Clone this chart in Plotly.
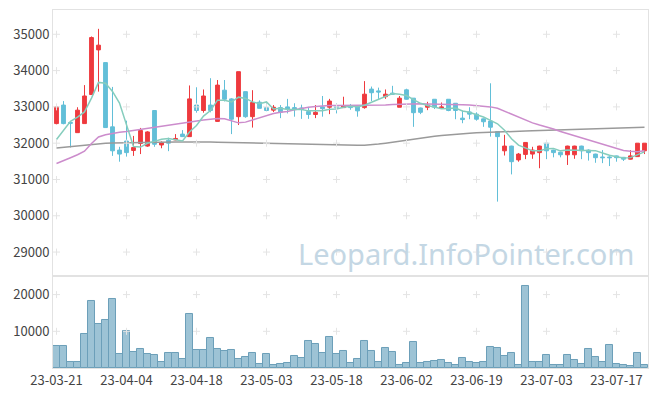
import plotly.graph_objects as go

# ---------------- data ----------------
months = [("03", [21, 22, 23, 24, 27, 28, 29, 30, 31]),
          ("04", [3, 4, 5, 6, 7, 10, 11, 12, 13, 14, 17, 18, 19, 20, 21, 24, 25, 26, 27, 28]),
          ("05", [2, 3, 4, 8, 9, 10, 11, 12, 15, 16, 17, 18, 19, 22, 23, 24, 25, 26, 30, 31]),
          ("06", [1, 2, 5, 7, 8, 9, 12, 13, 14, 15, 16, 19, 20, 21, 22, 23, 26, 27, 28, 29, 30]),
          ("07", [3, 4, 5, 6, 7, 10, 11, 12, 13, 14, 17, 18, 19, 20, 21])]
dates = [f"23-{m}-{d:02d}" for m, days in months for d in days]

opens = [32540, 33050, 32570, 32290, 32540, 33340, 34570, 34220, 32450, 31810,
         32060, 31800, 31990, 31920, 32900, 31950, 32080, 32090, 32250, 32180,
         33050, 32900, 33050, 32600, 33460, 33220, 32730, 33420, 32730, 33130,
         32980, 32910, 32980, 33000, 32980, 32970, 32870, 32790, 33000, 32990,
         33030, 32980, 33030, 33000, 32980, 33490, 33440, 33280, 33380, 32990,
         33470, 33240, 32970, 32990, 33210, 32960, 33210, 33100, 32690, 32860,
         32800, 32670, 32610, 32320, 31790, 31920, 31540, 31690, 31700, 31740,
         32000, 31810, 31750, 31680, 31680, 31920, 31810, 31700, 31620, 31620,
         31650, 31610, 31560, 31630, 31790]
highs = [33000, 33160, 32580, 32990, 33600, 34940, 35150, 34220, 33550, 31900,
         32620, 32200, 32420, 32330, 32900, 32050, 32150, 32250, 32360, 33590,
         33540, 33480, 33790, 33740, 33740, 33240, 33970, 33420, 33460, 33180,
         33120, 33050, 33050, 33220, 33100, 33060, 33000, 33050, 33300, 33220,
         33100, 33280, 33080, 33020, 33710, 33560, 33530, 33480, 33580, 33300,
         33500, 33240, 32980, 33140, 33210, 33120, 33210, 33100, 32900, 32990,
         32850, 32680, 33650, 32320, 32230, 31930, 31730, 32020, 31900, 31930,
         32000, 31820, 31760, 31930, 31930, 31930, 31830, 31710, 31810, 31640,
         31660, 31620, 31810, 32000, 32000]
lows = [32520, 32520, 31880, 32290, 32540, 33340, 33420, 32430, 31650, 31490,
        31630, 31650, 31700, 31900, 31900, 31860, 31780, 32080, 32170, 32180,
        32840, 32840, 32850, 32590, 33150, 32250, 32500, 32700, 32430, 32960,
        32880, 32860, 32690, 32820, 32730, 32670, 32670, 32690, 32730, 32800,
        32820, 32970, 32920, 32730, 32950, 33160, 33220, 33220, 33340, 32990,
        33200, 32450, 32800, 32910, 32940, 32960, 32880, 32660, 32550, 32660,
        32620, 32450, 32180, 30390, 31660, 31140, 31490, 31560, 31570, 31310,
        31560, 31610, 31610, 31400, 31570, 31560, 31520, 31460, 31450, 31370,
        31490, 31510, 31550, 31620, 31700]
closes = [33000, 32540, 32550, 32910, 33300, 34910, 34700, 32430, 31790, 31700,
          31740, 31880, 32350, 32310, 31970, 32020, 32000, 32130, 32180, 33220,
          32900, 33300, 32900, 33600, 33210, 32660, 33970, 32730, 33120, 32960,
          32900, 32990, 32850, 32940, 32940, 32930, 32790, 32850, 32950, 33160,
          32970, 33030, 32980, 32890, 33350, 33390, 33410, 33350, 33350, 33240,
          33210, 32840, 32850, 33050, 32990, 33000, 32900, 32900, 32650, 32800,
          32660, 32590, 32440, 32180, 31920, 31490, 31700, 32020, 31810, 31920,
          31790, 31740, 31680, 31920, 31920, 31790, 31740, 31600, 31600, 31600,
          31600, 31560, 31650, 32000, 32000]
volumes = [6100, 6100, 1740, 1740, 9370, 18370, 12100, 13190, 18910, 3920,
           10190, 4470, 5290, 3920, 3650, 1740, 4200, 4200, 2560, 14820,
           5020, 5020, 8280, 5290, 4740, 5020, 2560, 3110, 4200, 1200,
           3920, 930, 1200, 1470, 3380, 2830, 7460, 6640, 4200, 8550,
           3920, 4740, 1470, 2560, 7460, 4740, 1740, 5560, 4470, 930,
           1470, 7190, 1470, 1740, 2010, 2290, 1470, 930, 2830, 1740,
           1470, 1740, 5830, 5560, 3380, 4200, 930, 22450, 1740, 1740,
           3650, 930, 930, 3650, 2290, 1200, 5290, 3110, 1740, 6370,
           1200, 930, 650, 4200, 930]
# MA5 values for the first four days (need closes before the window)
ma5_head = [32100, 32350, 32600, 32720]
ma20 = [31440, 31530, 31600, 31680, 31780, 31990, 32170, 32230, 32270, 32300,
        32320, 32350, 32380, 32420, 32450, 32480, 32510, 32540, 32560, 32590,
        32610, 32640, 32660, 32680, 32670, 32620, 32560, 32580, 32640, 32720,
        32780, 32820, 32850, 32870, 32920, 32960, 32990, 33010, 33030, 33040,
        33040, 33040, 33035, 33035, 33040, 33045, 33050, 33055, 33065, 33075,
        33080, 33085, 33085, 33080, 33080, 33075, 33070, 33065, 33060, 33050,
        33040, 33025, 33000, 32960, 32880, 32800, 32720, 32620, 32560, 32500,
        32450, 32390, 32320, 32260, 32200, 32140, 32080, 32020, 31970, 31910,
        31860, 31800, 31775, 31765, 31790]
ma60 = [31870, 31890, 31905, 31920, 31940, 31970, 31990, 32000, 32005, 32010,
        32012, 32015, 32018, 32020, 32022, 32025, 32028, 32030, 32032, 32035,
        32035, 32033, 32030, 32025, 32020, 32015, 32010, 32005, 32000, 31995,
        31990, 31985, 31980, 31975, 31970, 31965, 31960, 31955, 31950, 31945,
        31942, 31940, 31940, 31940, 31945, 31955, 31975, 32000, 32030, 32060,
        32090, 32115, 32140, 32165, 32190, 32210, 32230, 32245, 32260, 32275,
        32285, 32295, 32305, 32315, 32320, 32325, 32330, 32335, 32340, 32345,
        32350, 32355, 32360, 32367, 32374, 32381, 32388, 32395, 32402, 32409,
        32416, 32423, 32430, 32435, 32440]
price_ticks = [29000, 30000, 31000, 32000, 33000, 34000, 35000]
vol_ticks = [10000, 20000]

# 5-day moving average of closes
ma5 = list(ma5_head) + [sum(closes[i - 4:i + 1]) / 5 for i in range(4, len(closes))]

RED = "#ee3a3e"
BLUE = "#62bfd8"
FONT = "Noto Sans CJK KR, Noto Sans, sans-serif"
LINE = "#e2e2e2"

label_dates = dates[::10]

fig = go.Figure()

# MA lines and candles
fig.add_trace(go.Scatter(x=dates, y=ma60, mode="lines", line=dict(color="#9a9a9a", width=1.5),
                         xaxis="x", yaxis="y", showlegend=False, hoverinfo="skip"))
fig.add_trace(go.Scatter(x=dates, y=ma20, mode="lines", line=dict(color="#cc8ccc", width=1.5),
                         xaxis="x", yaxis="y", showlegend=False, hoverinfo="skip"))
fig.add_trace(go.Scatter(x=dates, y=ma5, mode="lines", line=dict(color="#86cdbd", width=1.5),
                         xaxis="x", yaxis="y", showlegend=False, hoverinfo="skip"))

fig.add_trace(go.Candlestick(x=dates, open=opens, high=highs, low=lows, close=closes,
                             increasing=dict(line=dict(color=RED, width=1), fillcolor=RED),
                             decreasing=dict(line=dict(color=BLUE, width=1), fillcolor=BLUE),
                             whiskerwidth=0, xaxis="x", yaxis="y", showlegend=False))

fig.add_trace(go.Bar(x=dates, y=volumes, xaxis="x2", yaxis="y2", showlegend=False,
                     marker=dict(color="#9dc3d5", line=dict(color="#6c9fb9", width=1))))

# grid crosses at tick intersections
gx, gy = [], []
for yv in price_ticks:
    for d in label_dates:
        gx.append(d); gy.append(yv)
fig.add_trace(go.Scatter(x=gx, y=gy, mode="markers", xaxis="x", yaxis="y",
                         marker=dict(symbol="cross-thin", size=5,
                                     line=dict(color="#e4e4e4", width=1)),
                         hoverinfo="skip", showlegend=False))
vx, vy = [], []
for yv in vol_ticks:
    for d in label_dates:
        vx.append(d); vy.append(yv)
fig.add_trace(go.Scatter(x=vx, y=vy, mode="markers", xaxis="x2", yaxis="y2",
                         marker=dict(symbol="cross-thin", size=5,
                                     line=dict(color="#e4e4e4", width=1)),
                         hoverinfo="skip", showlegend=False))

tickfont = dict(family=FONT, size=13, color="#444444")
xcommon = dict(type="category", categoryorder="array", categoryarray=dates,
               range=[-0.5, len(dates) - 0.5], showgrid=False, zeroline=False,
               showline=True, mirror=True, linecolor=LINE, automargin=False)
ycommon = dict(showgrid=False, zeroline=False, showline=True, mirror=True,
               linecolor=LINE, tickfont=tickfont, ticks="", automargin=False)
# the page body has an 8px default margin, so the figure is sized to fit the window
fig.update_layout(
    width=649, height=388,
    margin=dict(l=45, r=9, t=2, b=28),
    paper_bgcolor="white", plot_bgcolor="white",
    showlegend=False, bargap=0, boxgap=0.22, hovermode=False,
    xaxis=dict(domain=[0, 1], showticklabels=False, anchor="y",
               rangeslider=dict(visible=False), **xcommon),
    yaxis=dict(domain=[0.257, 1], range=[28341, 35669], tickvals=price_ticks,
               ticktext=[str(t) for t in price_ticks], anchor="x", **ycommon),
    xaxis2=dict(domain=[0, 1], matches="x", tickvals=label_dates, ticktext=label_dates,
                tickangle=0, tickfont=tickfont, ticks="", anchor="y2", **xcommon),
    yaxis2=dict(domain=[0, 0.257], range=[0, 25070], tickvals=vol_ticks,
                ticktext=[str(t) for t in vol_ticks], anchor="x2", **ycommon),
    annotations=[dict(text="Leopard.InfoPointer.com", xref="paper", yref="paper",
                      x=0.9815, y=0.321, xanchor="right", yanchor="middle",
                      showarrow=False,
                      font=dict(family="Noto Sans, sans-serif", size=29, color="#c4d7e4"))],
)

fig.write_html("out.html")
